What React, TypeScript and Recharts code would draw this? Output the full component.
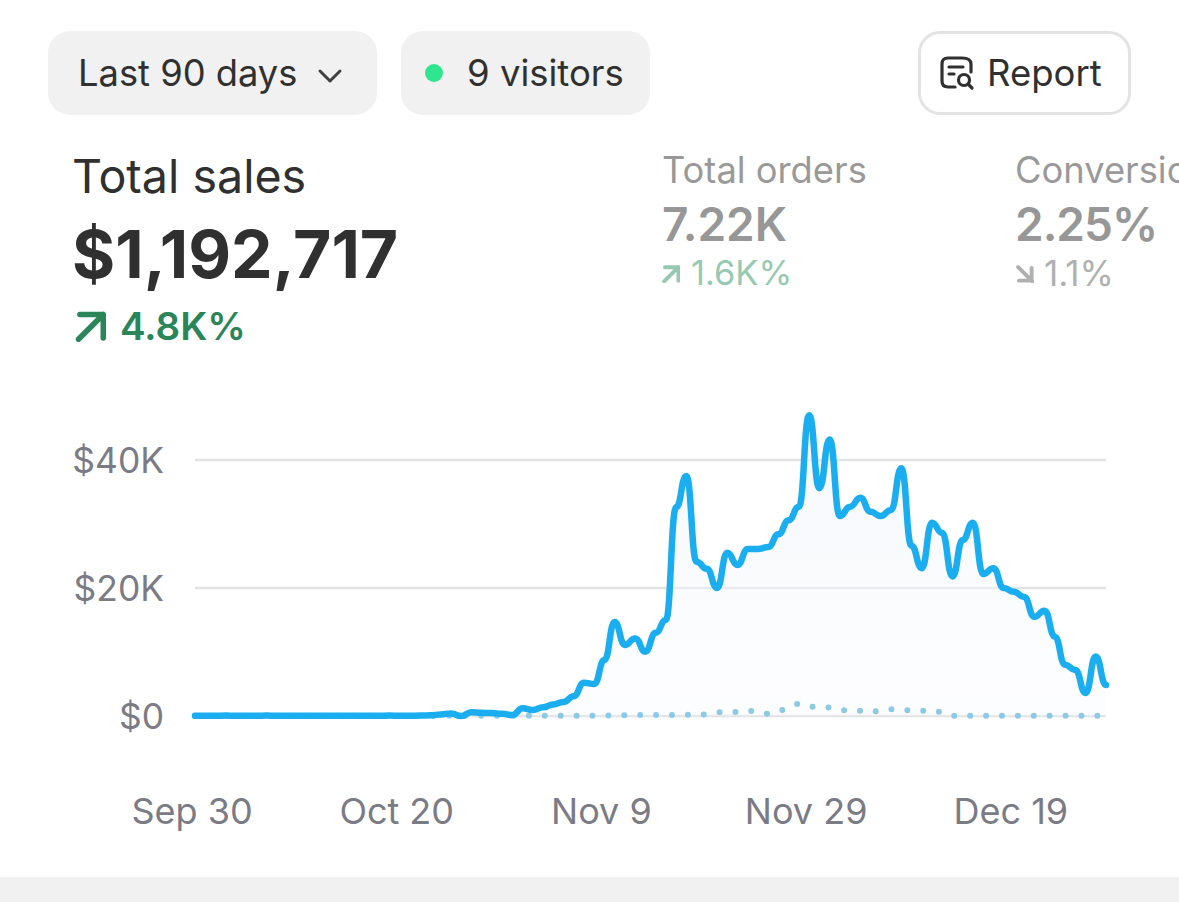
import { Area, CartesianGrid, ComposedChart, Line, XAxis, YAxis } from "recharts"

const dates = [
  "Sep 30", "Oct 1", "Oct 2", "Oct 3", "Oct 4", "Oct 5", "Oct 6", "Oct 7", "Oct 8", "Oct 9",
  "Oct 10", "Oct 11", "Oct 12", "Oct 13", "Oct 14", "Oct 15", "Oct 16", "Oct 17", "Oct 18", "Oct 19",
  "Oct 20", "Oct 21", "Oct 22", "Oct 23", "Oct 24", "Oct 25", "Oct 26", "Oct 27", "Oct 28", "Oct 29",
  "Oct 30", "Oct 31", "Nov 1", "Nov 2", "Nov 3", "Nov 4", "Nov 5", "Nov 6", "Nov 7", "Nov 8",
  "Nov 9", "Nov 10", "Nov 11", "Nov 12", "Nov 13", "Nov 14", "Nov 15", "Nov 16", "Nov 17", "Nov 18",
  "Nov 19", "Nov 20", "Nov 21", "Nov 22", "Nov 23", "Nov 24", "Nov 25", "Nov 26", "Nov 27", "Nov 28",
  "Nov 29", "Nov 30", "Dec 1", "Dec 2", "Dec 3", "Dec 4", "Dec 5", "Dec 6", "Dec 7", "Dec 8",
  "Dec 9", "Dec 10", "Dec 11", "Dec 12", "Dec 13", "Dec 14", "Dec 15", "Dec 16", "Dec 17", "Dec 18",
  "Dec 19", "Dec 20", "Dec 21", "Dec 22", "Dec 23", "Dec 24", "Dec 25", "Dec 26", "Dec 27", "Dec 28",
]

// thousands of dollars per day
const currentSales = [
  0.05, 0.03, 0.04, 0.06, 0.05, 0.03, 0.04, 0.06, 0.05, 0.03,
  0.02, 0.03, 0.04, 0.05, 0.05, 0.04, 0.04, 0.05, 0.03, 0.06,
  0.05, 0.05, 0.06, 0.1, 0.25, 0.4, 0.0, 0.6, 0.5, 0.45,
  0.35, 0.15, 1.2, 0.95, 1.35, 1.8, 2.2, 3.1, 5.2, 5.0,
  8.75, 14.7, 11.1, 12.1, 10.05, 13, 15, 32.6, 37.5, 24.1,
  23, 20, 25.5, 23.6, 26.1, 26.1, 26.4, 28.4, 30.6, 32.7,
  47, 35.6, 43.2, 31.25, 32.7, 34.1, 31.9, 31.25, 32.2, 38.7,
  26.6, 23.1, 30.2, 28.6, 21.8, 27.5, 30.2, 22.2, 23.1, 20,
  19.4, 18.6, 15.5, 16.45, 12.4, 8, 7.2, 3.6, 9.3, 4.85,
]

const previousSales = [
  0.02, 0.02, 0.02, 0.02, 0.02, 0.02, 0.02, 0.02, 0.02, 0.02,
  0.02, 0.02, 0.02, 0.02, 0.02, 0.02, 0.02, 0.02, 0.02, 0.02,
  0.02, 0.02, 0.02, 0.02, 0.02, 0.02, 0.02, 0.02, 0.02, 0.02,
  0.02, 0.02, 0.02, 0.02, 0.02, 0.02, 0.02, 0.02, 0.05, 0.05,
  0.05, 0.1, 0.1, 0.15, 0.15, 0.15, 0.15, 0.15, 0.2, 0.2,
  0.3, 0.55, 0.6, 0.65, 0.8, 0.6, 0.35, 0.7, 1.4, 1.9,
  1.5, 1.35, 1.3, 0.95, 0.85, 0.8, 0.6, 0.9, 1.05, 0.95,
  0.85, 0.8, 0.9, 0.5, 0.05, 0.03, 0.03, 0.03, 0.03, 0.03,
  0.03, 0.03, 0.03, 0.03, 0.03, 0.03, 0.03, 0.03, 0.03, 0.03,
]

const xTicks = ["Sep 30", "Oct 20", "Nov 9", "Nov 29", "Dec 19"]
const yTicks = [0, 20, 40]

const chartData = dates.map((date, i) => ({
  date,
  current: currentSales[i],
  previous: previousSales[i],
}))

const font = "Inter, sans-serif"
const abs = (left: number, top: number, size: number, color: string, weight = 400): React.CSSProperties => ({
  position: "absolute",
  left,
  top,
  fontSize: size,
  lineHeight: `${size}px`,
  color,
  fontWeight: weight,
  whiteSpace: "nowrap",
})

function UpArrow({ x, y, size, color, sw }: { x: number; y: number; size: number; color: string; sw: number }) {
  return (
    <svg style={{ position: "absolute", left: x, top: y }} width={size} height={size} viewBox="0 0 24 24" fill="none">
      <path d="M4 22 L22 4 M5 4 H22 V21" stroke={color} strokeWidth={sw} strokeLinecap="round" strokeLinejoin="round" />
    </svg>
  )
}

export default function App() {
  return (
    <div style={{ position: "absolute", left: 0, top: 0, width: 1179, height: 902, overflow: "hidden", background: "#fff", fontFamily: font }}>
      {/* top buttons */}
      <div style={{ position: "absolute", left: 48, top: 31, width: 329, height: 84, borderRadius: 22, background: "#f1f1f1" }} />
      <div style={abs(78, 55, 36.3, "#303030", 400)}>Last 90 days</div>
      <svg style={{ position: "absolute", left: 315, top: 64 }} width={30} height={24} viewBox="0 0 30 24" fill="none">
        <path d="M5 7 L15 17 L25 7" stroke="#404040" strokeWidth={3} strokeLinecap="round" strokeLinejoin="round" />
      </svg>

      <div style={{ position: "absolute", left: 401, top: 31, width: 249, height: 84, borderRadius: 22, background: "#f1f1f1" }} />
      <div style={{ position: "absolute", left: 425, top: 64, width: 18, height: 18, borderRadius: 9, background: "#2ee68e" }} />
      <div style={abs(467, 55, 36.5, "#303030", 400)}>9 visitors</div>

      <div style={{ position: "absolute", left: 918, top: 31, width: 213, height: 84, boxSizing: "border-box", borderRadius: 22, border: "3px solid #e3e3e3", background: "#fff" }} />
      <svg style={{ position: "absolute", left: 938, top: 54 }} width={38} height={38} viewBox="0 0 38 38" fill="none">
        <path d="M17 33 H10 Q4 33 4 27 V10 Q4 4 10 4 H24 Q33 4 33 10 V18" stroke="#303030" strokeWidth={3.2} strokeLinecap="round" />
        <path d="M11 13 H25 M11 20 H16" stroke="#303030" strokeWidth={3.2} strokeLinecap="round" />
        <circle cx={26} cy={26} r={5.5} stroke="#303030" strokeWidth={3.2} />
        <path d="M30 30 L34 34" stroke="#303030" strokeWidth={3.2} strokeLinecap="round" />
      </svg>
      <div style={abs(987, 55, 36.5, "#303030", 400)}>Report</div>

      {/* metrics */}
      <div style={abs(72, 153, 46.6, "#303030", 400)}>Total sales</div>
      <div style={abs(72, 221, 66, "#303030", 700)}>$1,192,717</div>
      <UpArrow x={73} y={309} size={33} color="#2a8558" sw={4} />
      <div style={abs(120, 307, 38.5, "#2a8558", 600)}>4.8K%</div>

      <div style={abs(662, 152, 36.3, "#999999", 400)}>Total orders</div>
      <div style={abs(662, 201, 46, "#979797", 600)}>7.22K</div>
      <UpArrow x={661} y={264} size={19} color="#97c9b0" sw={5} />
      <div style={abs(691, 256, 34.4, "#97c9b0", 400)}>1.6K%</div>

      <div style={abs(1015, 152, 36.3, "#999999", 400)}>Conversion rate</div>
      <div style={{ ...abs(1015, 201, 46, "#979797", 600), letterSpacing: -1 }}>2.25%</div>
      <svg style={{ position: "absolute", left: 1015, top: 264 }} width={19} height={19} viewBox="0 0 24 24" fill="none">
        <path d="M4 4 L22 22 M5 21 H21 V5" stroke="#b0b0b0" strokeWidth={5} strokeLinecap="round" strokeLinejoin="round" />
      </svg>
      <div style={abs(1044, 256, 35, "#b0b0b0", 400)}>1.1%</div>

      {/* chart: $0 sits on y=716, 6.4px per $1K */}
      <div style={{ position: "absolute", left: 0, top: 380 }}>
        <ComposedChart width={1179} height={470} data={chartData} margin={{ top: 16, right: 73, bottom: 20, left: 0 }}>
          <defs>
            <linearGradient id="salesFill" x1="0" y1="0" x2="0" y2="1">
              <stop offset="0%" stopColor="#eef2f8" stopOpacity={1} />
              <stop offset="100%" stopColor="#f8f9fc" stopOpacity={0.5} />
            </linearGradient>
          </defs>
          <CartesianGrid horizontal vertical={false} syncWithTicks stroke="#e3e3e6" strokeWidth={2.5} />
          <XAxis
            dataKey="date"
            ticks={xTicks}
            interval={0}
            height={114}
            axisLine={false}
            tickLine={false}
            tickMargin={76}
            tick={{ fontSize: 36, fill: "#7b7b85", fontFamily: font, dx: -3 }}
          />
          <YAxis
            domain={[0, 50]}
            ticks={yTicks}
            width={195}
            axisLine={false}
            tickLine={false}
            tickMargin={25}
            tickFormatter={(v: number) => (v === 0 ? "$0" : `$${v}K`)}
            tick={{ fontSize: 35.4, fill: "#7b7b85", fontFamily: font }}
          />
          <Area type="bumpX" dataKey="current" stroke="none" fill="url(#salesFill)" isAnimationActive={false} />
          <Line
            type="monotone"
            dataKey="previous"
            stroke="#8cc9e6"
            strokeWidth={6}
            strokeLinecap="round"
            strokeDasharray="0 15.9"
            dot={false}
            activeDot={false}
            isAnimationActive={false}
          />
          <Line
            type="bumpX"
            dataKey="current"
            stroke="#1aaef0"
            strokeWidth={6.5}
            strokeLinecap="round"
            dot={false}
            activeDot={false}
            isAnimationActive={false}
          />
        </ComposedChart>
      </div>

      <div style={{ position: "absolute", left: 0, top: 877, width: 1179, height: 25, background: "#f1f1f1" }} />
    </div>
  )
}
